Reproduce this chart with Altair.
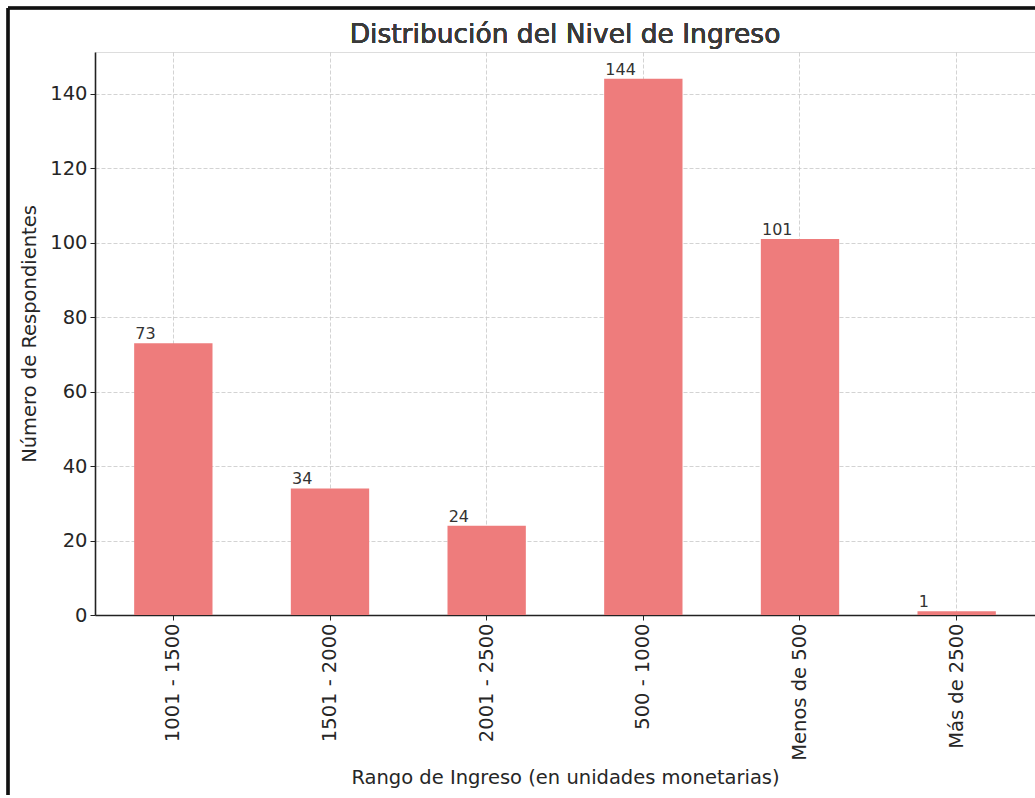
import altair as alt
import pandas as pd

# Income brackets and number of respondents in each
rangos = ["1001 - 1500", "1501 - 2000", "2001 - 2500", "500 - 1000", "Menos de 500", "Más de 2500"]
respondientes = [73, 34, 24, 144, 101, 1]
titulo = "Distribución del Nivel de Ingreso"

df = pd.DataFrame({"rango": rangos, "n": respondientes})

FONT = "DejaVu Sans"
W, H = 940, 563
PAD_L, PAD_T, PAD_B = 95, 52, 180
TICK_FS = 19.5
TITLE_FS = 19.5
TEXT_COLOR = "#262626"

x_enc = alt.X(
    "rango:N",
    sort=rangos,
    title="Rango de Ingreso (en unidades monetarias)",
    scale=alt.Scale(paddingInner=0.5, paddingOuter=0.25),
    axis=alt.Axis(
        labelAngle=-90,
        labelFontSize=TICK_FS,
        labelColor=TEXT_COLOR,
        labelFont=FONT,
        labelPadding=3,
        titleFontSize=TITLE_FS,
        titleFont=FONT,
        titleFontWeight="normal",
        titleColor=TEXT_COLOR,
        titlePadding=8,
        bandPosition=0.5,
        tickSize=5,
        tickColor="#222",
        domainColor="#222",
        domainWidth=1.6,
        grid=True,
        gridDash=[4, 2],
        gridColor="#c8c8c8",
        gridWidth=0.8,
    ),
)
y_enc = alt.Y(
    "n:Q",
    title="Número de Respondientes",
    scale=alt.Scale(domain=[0, 151.2], nice=False),
    axis=alt.Axis(
        values=[0, 20, 40, 60, 80, 100, 120, 140],
        labelFontSize=TICK_FS,
        labelColor=TEXT_COLOR,
        labelFont=FONT,
        labelPadding=3,
        titleFontSize=TITLE_FS,
        titleFont=FONT,
        titleFontWeight="normal",
        titleColor=TEXT_COLOR,
        titlePadding=10,
        tickSize=5,
        tickColor="#222",
        domainColor="#222",
        domainWidth=1.6,
        grid=True,
        gridDash=[4, 2],
        gridColor="#c8c8c8",
        gridWidth=0.8,
    ),
)

bars = alt.Chart(df).mark_bar(color="#EE7C7C").encode(x=x_enc, y=y_enc)

labels = alt.Chart(df).mark_text(
    align="left", baseline="bottom", dx=-38, dy=-1, fontSize=16, font=FONT, color="#333"
).encode(x=alt.X("rango:N", sort=rangos), y="n:Q", text="n:Q")

# Chart title drawn as a text mark above the plot area
title = alt.Chart(df).mark_text(
    align="center", baseline="alphabetic", fontSize=26.5, font=FONT,
    fontWeight="normal", color="#3a3a3a"
).encode(x=alt.value(W / 2), y=alt.value(-9), text=alt.value(titulo))

# Dark frame around the figure
frame_left = alt.Chart(df).mark_rule(color="#111", strokeWidth=2.5).encode(
    x=alt.value(8 - PAD_L), y=alt.value(8 - PAD_T), y2=alt.value(H + PAD_B + 10)
)
frame_top = alt.Chart(df).mark_rule(color="#111", strokeWidth=2.5).encode(
    x=alt.value(8 - PAD_L), x2=alt.value(W + 10), y=alt.value(8 - PAD_T)
)

chart = (
    alt.layer(bars, labels, title, frame_left, frame_top)
    .properties(
        width=W,
        height=H,
        autosize=alt.AutoSizeParams(type="none"),
        padding={"left": PAD_L, "top": PAD_T, "right": 0, "bottom": PAD_B},
    )
    .configure_view(stroke=None)
    .configure(background="white")
)

chart.save("out.html", embed_options={"renderer": "svg", "actions": False})
